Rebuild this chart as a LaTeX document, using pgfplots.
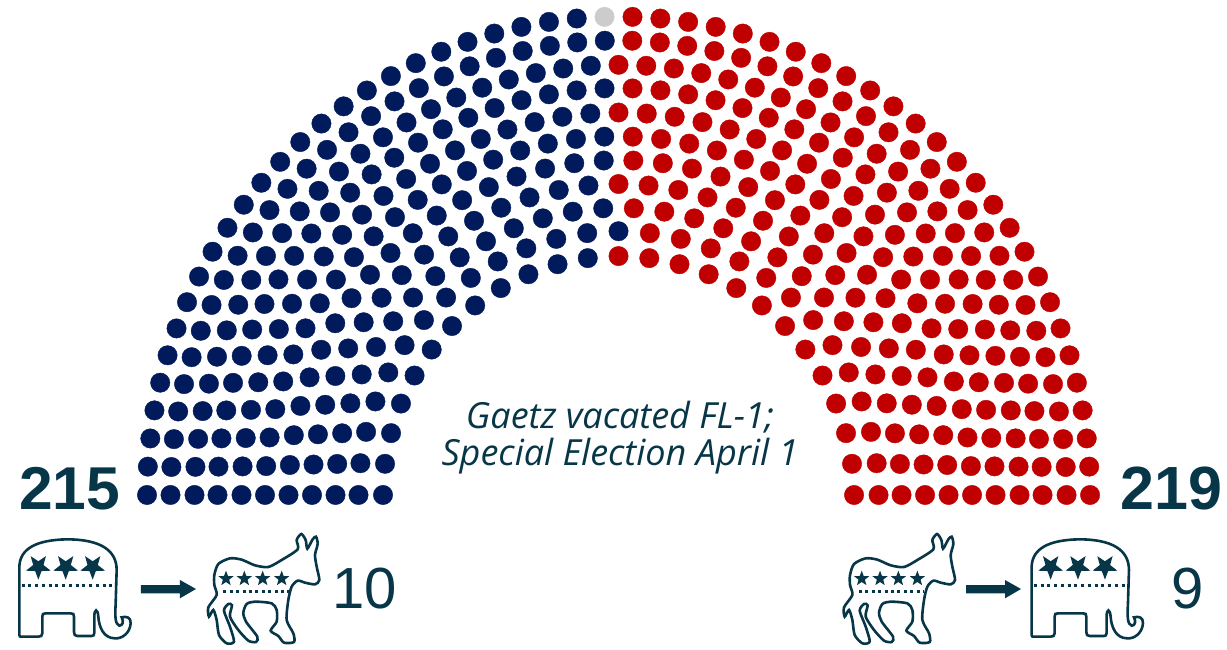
\documentclass[border=0pt]{standalone}
\usepackage{fontspec}
\usepackage{pgfplots}
\pgfplotsset{compat=1.18}
\usetikzlibrary{shapes.geometric}
\setmainfont{Liberation Sans}
\newfontfamily\capfont{Open Sans}
\definecolor{dem}{HTML}{001A5B}
\definecolor{rep}{HTML}{C00000}
\definecolor{vac}{HTML}{CCCCCC}
\definecolor{ink}{HTML}{073648}
\newcommand{\elephant}{%
  \draw[ink,line width=2.6pt] (58,525) -- (58,320) .. controls (60,265) and (110,240) .. (200,238)
   .. controls (300,238) and (350,270) .. (350,330) -- (347,430)
   .. controls (345,470) and (345,492) .. (358,497) .. controls (368,497) and (372,485) .. (365,472)
   .. controls (380,468) and (393,472) .. (392,490) .. controls (390,520) and (365,537) .. (345,535)
   .. controls (310,535) and (297,500) .. (295,470) .. controls (293,445) and (283,445) .. (283,470)
   -- (283,518) .. controls (283,526) and (280,528) .. (275,528) -- (232,528)
   .. controls (225,528) and (222,524) .. (222,516) -- (222,470) .. controls (222,462) and (220,460) .. (212,460)
   -- (137,460) .. controls (129,460) and (127,462) .. (127,470) -- (127,520) .. controls (127,528) and (122,530) .. (115,530)
   -- (66,530) .. controls (60,530) and (58,530) .. (58,525) -- cycle;
  \draw[ink,line width=3pt,dash pattern=on 3pt off 3.75pt] (65,377) -- (342,377);
  \foreach \sx in {115,197,278}
    \node[star,star points=5,star point ratio=2.4,shape border rotate=180,fill=ink,draw=none,minimum size=26pt,inner sep=0pt] at (\sx,320) {};
}
\newcommand{\donkey}{%
  \draw[ink,line width=2.6pt] plot[smooth cycle,tension=.45] coordinates {
   (643,345) (655,312) (690,295) (725,299) (765,316) (805,321) (845,300) (893,268) (890,240) (904,222) (917,240) (922,266)
   (938,238) (948,230) (953,252) (945,285) (950,320) (958,360) (945,373) (915,368) (893,362) (875,380) (865,420) (860,480) (880,520) (882,546)
   (852,548) (835,528) (812,512) (830,485) (830,450) (815,430) (765,425) (740,432) (730,458) (738,485) (772,530) (768,546) (745,542)
   (715,510) (690,470) (696,436) (685,432) (672,452) (690,500) (702,545) (680,550) (657,525) (650,480) (640,450) (627,470) (625,442) (650,405) (643,375)};
  \draw[ink,line width=3pt,dash pattern=on 3pt off 3.4pt] (670,395) -- (866,395);
  \foreach \sx in {678,733,788,845}
    \node[star,star points=5,star point ratio=2.4,fill=ink,draw=none,minimum size=16pt,inner sep=0pt] at (\sx,356) {};
}
\newcommand{\arrowshape}{%
  \fill[ink] (423,375) -- (540,375) -- (540,360) -- (588,387) -- (540,415) -- (540,400) -- (423,400) -- cycle;
}
\begin{document}
\begin{tikzpicture}[x=1pt,y=1pt]
\path[use as bounding box] (0,0) rectangle (1227,649);
\begin{axis}[at={(0,0)},anchor=south west,scale only axis,width=1227pt,height=649pt,
  xmin=-618.5,xmax=608.5,ymin=-151.8,ymax=487.9,hide axis,clip=false,
  every axis plot/.append style={only marks,data cs=polar,mark=*,mark size=9.7pt}]
% Democratic seats: (angle, row radius)
\addplot[color=dem,mark options={fill=dem,draw=dem,line width=0.4pt}] coordinates {
(180,235.5)(172.5,235.5)(165,235.5)(157.5,235.5)(150,235.5)(142.5,235.5)(135,235.5)(127.5,235.5)(120,235.5)(112.5,235.5)(105,235.5)(97.5,235.5)
(180,260)(173.08,260)(166.15,260)(159.23,260)(152.31,260)(145.38,260)(138.46,260)(131.54,260)(124.62,260)(117.69,260)(110.77,260)(103.85,260)(96.92,260)(90,260)
(180,283)(173.79,283)(167.59,283)(161.38,283)(155.17,283)(148.97,283)(142.76,283)(136.55,283)(130.34,283)(124.14,283)(117.93,283)(111.72,283)(105.52,283)(99.31,283)(93.10,283)
(180,306.5)(174.38,306.5)(168.75,306.5)(163.13,306.5)(157.5,306.5)(151.88,306.5)(146.25,306.5)(140.63,306.5)(135,306.5)(129.38,306.5)(123.75,306.5)(118.13,306.5)(112.5,306.5)(106.88,306.5)(101.25,306.5)(95.63,306.5)
(180,330)(174.86,330)(169.71,330)(164.57,330)(159.43,330)(154.29,330)(149.14,330)(144,330)(138.86,330)(133.71,330)(128.57,330)(123.43,330)(118.29,330)(113.14,330)(108,330)(102.86,330)(97.71,330)(92.57,330)
(180,353.5)(175.38,353.5)(170.77,353.5)(166.15,353.5)(161.54,353.5)(156.92,353.5)(152.31,353.5)(147.69,353.5)(143.08,353.5)(138.46,353.5)(133.85,353.5)(129.23,353.5)(124.62,353.5)(120,353.5)(115.38,353.5)(110.77,353.5)(106.15,353.5)(101.54,353.5)(96.92,353.5)(92.31,353.5)
(180,377)(175.71,377)(171.43,377)(167.14,377)(162.86,377)(158.57,377)(154.29,377)(150,377)(145.71,377)(141.43,377)(137.14,377)(132.86,377)(128.57,377)(124.29,377)(120,377)(115.71,377)(111.43,377)(107.14,377)(102.86,377)(98.57,377)(94.29,377)
(180,401)(176,401)(172,401)(168,401)(164,401)(160,401)(156,401)(152,401)(148,401)(144,401)(140,401)(136,401)(132,401)(128,401)(124,401)(120,401)(116,401)(112,401)(108,401)(104,401)(100,401)(96,401)(92,401)
(180,424)(176.25,424)(172.5,424)(168.75,424)(165,424)(161.25,424)(157.5,424)(153.75,424)(150,424)(146.25,424)(142.5,424)(138.75,424)(135,424)(131.25,424)(127.5,424)(123.75,424)(120,424)(116.25,424)(112.5,424)(108.75,424)(105,424)(101.25,424)(97.5,424)(93.75,424)
(180,448)(176.47,448)(172.94,448)(169.41,448)(165.88,448)(162.35,448)(158.82,448)(155.29,448)(151.76,448)(148.24,448)(144.71,448)(141.18,448)(137.65,448)(134.12,448)(130.59,448)(127.06,448)(123.53,448)(120,448)(116.47,448)(112.94,448)(109.41,448)(105.88,448)(102.35,448)(98.82,448)(95.29,448)(91.76,448)
(180,471.5)(176.60,471.5)(173.21,471.5)(169.81,471.5)(166.42,471.5)(163.02,471.5)(159.62,471.5)(156.23,471.5)(152.83,471.5)(149.43,471.5)(146.04,471.5)(142.64,471.5)(139.25,471.5)(135.85,471.5)(132.45,471.5)(129.06,471.5)(125.66,471.5)(122.26,471.5)(118.87,471.5)(115.47,471.5)(112.08,471.5)(108.68,471.5)(105.28,471.5)(101.89,471.5)(98.49,471.5)(95.09,471.5)
};
% Vacant seat
\addplot[color=vac,mark options={fill=vac,draw=vac,line width=0.4pt}] coordinates {(91.70,471.5)};
% Republican seats
\addplot[color=rep,mark options={fill=rep,draw=rep,line width=0.4pt}] coordinates {
(0,235.5)(7.5,235.5)(15,235.5)(22.5,235.5)(30,235.5)(37.5,235.5)(45,235.5)(52.5,235.5)(60,235.5)(67.5,235.5)(75,235.5)(82.5,235.5)(90,235.5)
(0,260)(6.92,260)(13.85,260)(20.77,260)(27.69,260)(34.62,260)(41.54,260)(48.46,260)(55.38,260)(62.31,260)(69.23,260)(76.15,260)(83.08,260)
(0,283)(6.21,283)(12.41,283)(18.62,283)(24.83,283)(31.03,283)(37.24,283)(43.45,283)(49.66,283)(55.86,283)(62.07,283)(68.28,283)(74.48,283)(80.69,283)(86.90,283)
(0,306.5)(5.63,306.5)(11.25,306.5)(16.88,306.5)(22.5,306.5)(28.13,306.5)(33.75,306.5)(39.38,306.5)(45,306.5)(50.63,306.5)(56.25,306.5)(61.88,306.5)(67.5,306.5)(73.13,306.5)(78.75,306.5)(84.38,306.5)(90,306.5)
(0,330)(5.14,330)(10.29,330)(15.43,330)(20.57,330)(25.71,330)(30.86,330)(36,330)(41.14,330)(46.29,330)(51.43,330)(56.57,330)(61.71,330)(66.86,330)(72,330)(77.14,330)(82.29,330)(87.43,330)
(0,353.5)(4.62,353.5)(9.23,353.5)(13.85,353.5)(18.46,353.5)(23.08,353.5)(27.69,353.5)(32.31,353.5)(36.92,353.5)(41.54,353.5)(46.15,353.5)(50.77,353.5)(55.38,353.5)(60,353.5)(64.62,353.5)(69.23,353.5)(73.85,353.5)(78.46,353.5)(83.08,353.5)(87.69,353.5)
(0,377)(4.29,377)(8.57,377)(12.86,377)(17.14,377)(21.43,377)(25.71,377)(30,377)(34.29,377)(38.57,377)(42.86,377)(47.14,377)(51.43,377)(55.71,377)(60,377)(64.29,377)(68.57,377)(72.86,377)(77.14,377)(81.43,377)(85.71,377)(90,377)
(0,401)(4,401)(8,401)(12,401)(16,401)(20,401)(24,401)(28,401)(32,401)(36,401)(40,401)(44,401)(48,401)(52,401)(56,401)(60,401)(64,401)(68,401)(72,401)(76,401)(80,401)(84,401)(88,401)
(0,424)(3.75,424)(7.5,424)(11.25,424)(15,424)(18.75,424)(22.5,424)(26.25,424)(30,424)(33.75,424)(37.5,424)(41.25,424)(45,424)(48.75,424)(52.5,424)(56.25,424)(60,424)(63.75,424)(67.5,424)(71.25,424)(75,424)(78.75,424)(82.5,424)(86.25,424)(90,424)
(0,448)(3.53,448)(7.06,448)(10.59,448)(14.12,448)(17.65,448)(21.18,448)(24.71,448)(28.24,448)(31.76,448)(35.29,448)(38.82,448)(42.35,448)(45.88,448)(49.41,448)(52.94,448)(56.47,448)(60,448)(63.53,448)(67.06,448)(70.59,448)(74.12,448)(77.65,448)(81.18,448)(84.71,448)(88.24,448)
(0,471.5)(3.40,471.5)(6.79,471.5)(10.19,471.5)(13.58,471.5)(16.98,471.5)(20.38,471.5)(23.77,471.5)(27.17,471.5)(30.57,471.5)(33.96,471.5)(37.36,471.5)(40.75,471.5)(44.15,471.5)(47.55,471.5)(50.94,471.5)(54.34,471.5)(57.74,471.5)(61.13,471.5)(64.53,471.5)(67.92,471.5)(71.32,471.5)(74.72,471.5)(78.11,471.5)(81.51,471.5)(84.91,471.5)(88.30,471.5)
};
\end{axis}
% texts (page coordinates: y = 649 - pixel row)
\node[anchor=base west,inner sep=0pt,text=ink] at (19,140) {\fontsize{60.5}{64}\selectfont\bfseries 215};
\node[anchor=base west,inner sep=0pt,text=ink] at (1120,140) {\fontsize{61}{64}\selectfont\bfseries 219};
\node[anchor=base west,inner sep=0pt,text=ink] at (332,41) {\fontsize{58}{62}\selectfont 10};
\node[anchor=base west,inner sep=0pt,text=ink] at (1171,41) {\fontsize{58}{62}\selectfont 9};
\node[anchor=base,inner sep=0pt,text=ink] at (620,221) {\capfont\itshape\fontsize{36}{38}\selectfont Gaetz vacated FL-1;};
\node[anchor=base,inner sep=0pt,text=ink] at (620,184) {\capfont\itshape\fontsize{36}{38}\selectfont Special Election April 1};
% party icons, drawn in units of one third of a pixel
\begin{scope}[shift={(0pt,189pt)},x=0.33333pt,y=-0.33333pt]\elephant\donkey\arrowshape\end{scope}
\begin{scope}[shift={(635.7pt,189pt)},x=0.33333pt,y=-0.33333pt]\donkey\end{scope}
\begin{scope}[shift={(825pt,189pt)},x=0.33333pt,y=-0.33333pt]\arrowshape\end{scope}
\begin{scope}[shift={(1012.3pt,189pt)},x=0.33333pt,y=-0.33333pt]\elephant\end{scope}
\end{tikzpicture}
\end{document}
